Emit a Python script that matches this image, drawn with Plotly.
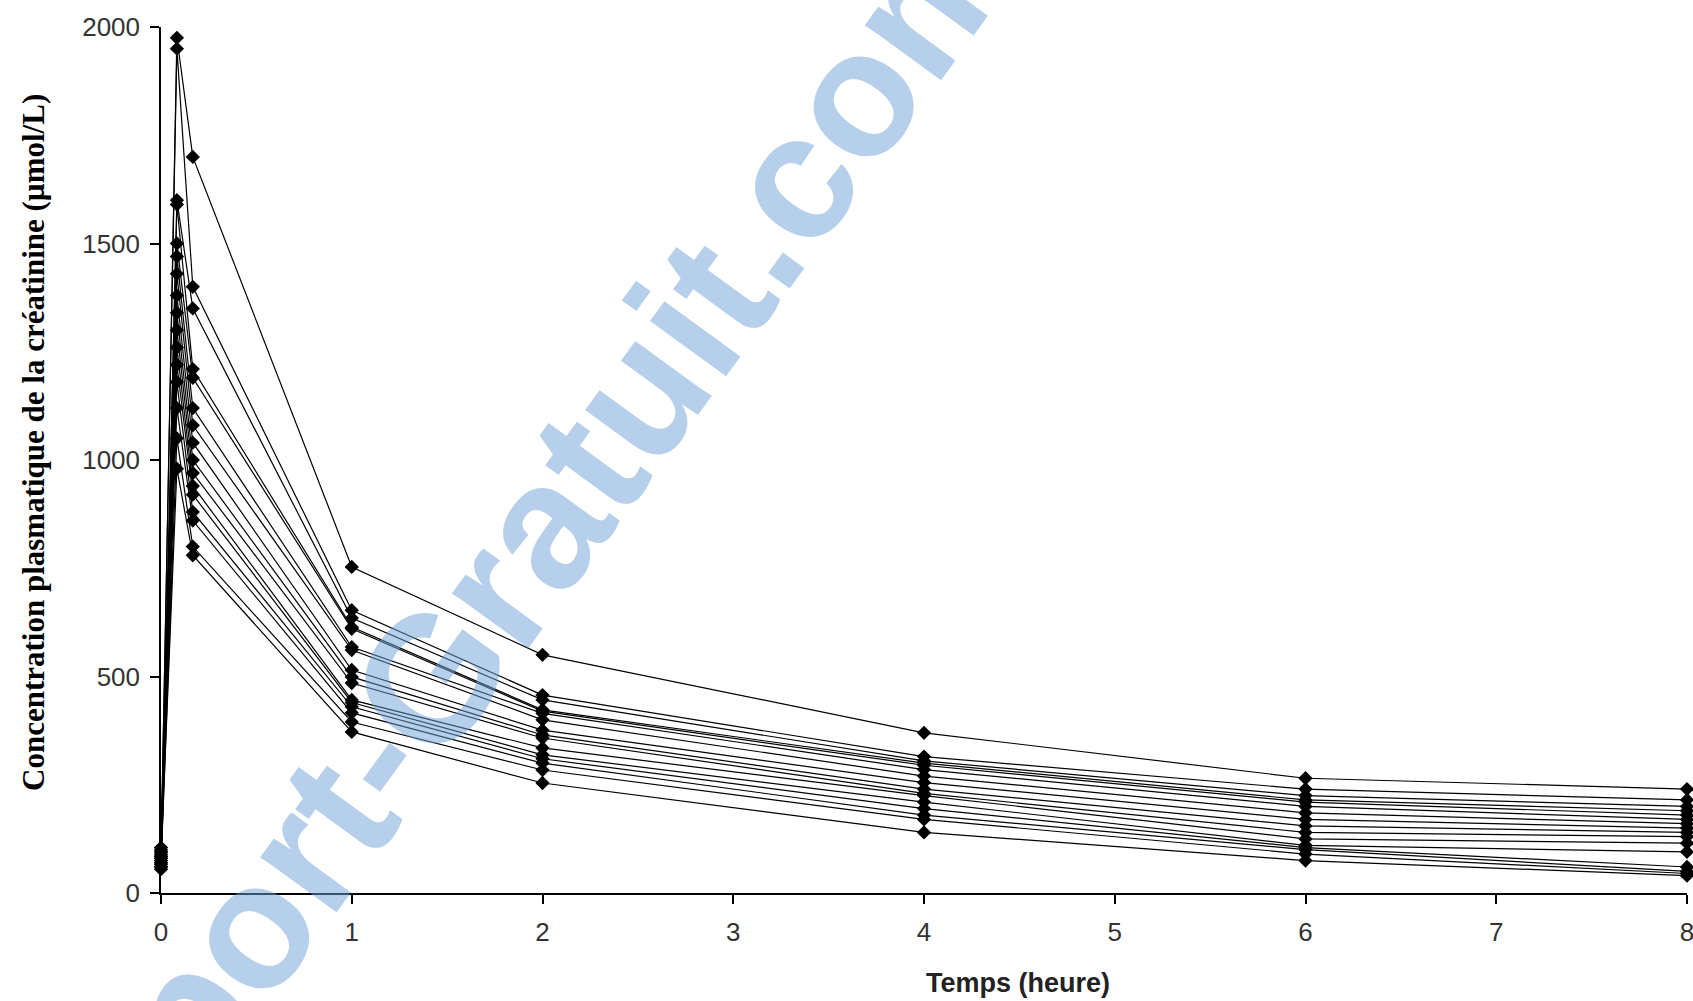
import plotly.graph_objects as go

# Sampling times (hours): 0, 5 min, 10 min, 1 h, 2 h, 4 h, 6 h, 8 h
times = [0, 5 / 60, 10 / 60, 1, 2, 4, 6, 8]

# Plasma creatinine (µmol/L), one list per subject
s01 = [85, 1975, 1700, 753, 550, 370, 265, 240]
s02 = [95, 1950, 1400, 653, 457, 315, 240, 215]
s03 = [70, 1600, 1350, 635, 446, 305, 225, 200]
s04 = [100, 1590, 1210, 614, 423, 300, 215, 190]
s05 = [60, 1500, 1190, 610, 420, 295, 210, 180]
s06 = [80, 1470, 1120, 568, 415, 285, 200, 170]
s07 = [90, 1430, 1080, 561, 400, 270, 185, 160]
s08 = [75, 1380, 1040, 515, 376, 255, 170, 150]
s09 = [65, 1340, 1000, 499, 365, 240, 155, 140]
s10 = [105, 1300, 970, 485, 358, 230, 140, 130]
s11 = [55, 1260, 940, 446, 335, 225, 125, 115]
s12 = [85, 1220, 920, 440, 319, 210, 110, 95]
s13 = [70, 1180, 880, 430, 310, 195, 105, 60]
s14 = [95, 1120, 860, 416, 300, 180, 100, 50]
s15 = [60, 1050, 800, 395, 284, 170, 90, 45]
s16 = [80, 980, 780, 372, 254, 140, 75, 40]

subjects = [s01, s02, s03, s04, s05, s06, s07, s08,
            s09, s10, s11, s12, s13, s14, s15, s16]

x_ticks = [0, 1, 2, 3, 4, 5, 6, 7, 8]
y_ticks = [0, 500, 1000, 1500, 2000]

fig = go.Figure()
for i, s in enumerate(subjects):
    fig.add_trace(go.Scatter(
        x=times, y=s, mode="lines+markers",
        line=dict(color="black", width=1.2),
        marker=dict(symbol="diamond", size=11, color="black"),
        showlegend=False, cliponaxis=False, name=f"S{i+1}"))

W, H = 1693, 1001
L, R, T, B = 161, 6, 27, 108
pw, ph = W - L - R, H - T - B


def px(x):
    return (x - L) / pw


def py(y):
    return (H - B - y) / ph


fig.update_layout(
    width=W, height=H,
    margin=dict(l=L, r=R, t=T, b=B, autoexpand=False),
    paper_bgcolor="white", plot_bgcolor="white",
    font=dict(family="Liberation Sans, Arial", color="#333333", size=26),
    xaxis=dict(range=[0, 8], tickvals=x_ticks, showgrid=False, zeroline=False,
               showline=True, linecolor="black", linewidth=1.5,
               ticks="outside", ticklen=9, tickwidth=1.5, tickcolor="black",
               ticklabelstandoff=6, ticklabeloverflow="allow", automargin=False,
               tickfont=dict(size=26, color="#333333")),
    yaxis=dict(range=[0, 2000], tickvals=y_ticks, showgrid=False, zeroline=False,
               showline=True, linecolor="black", linewidth=1.5,
               ticks="outside", ticklen=9, tickwidth=1.5, tickcolor="black",
               ticklabelstandoff=5, ticklabeloverflow="allow", automargin=False,
               tickfont=dict(size=26, color="#333333")),
    annotations=[
        dict(text="<b>Concentration plasmatique de la créatinine (µmol/L)</b>",
             xref="paper", yref="paper", x=px(33), y=py(443),
             xanchor="center", yanchor="middle", textangle=-90, showarrow=False,
             font=dict(family="Liberation Serif, Times New Roman", size=31, color="black")),
        dict(text="<b>Temps (heure)</b>",
             xref="paper", yref="paper", x=px(1018), y=py(983),
             xanchor="center", yanchor="middle", showarrow=False,
             font=dict(family="Liberation Sans, Arial", size=27, color="#222222")),
        dict(text="<b>Rapport-Gratuit.com</b>",
             xref="paper", yref="paper", x=px(465), y=py(630),
             xanchor="center", yanchor="middle", textangle=-54, showarrow=False,
             font=dict(family="Liberation Sans, Arial", size=178,
                       color="rgba(110,160,215,0.5)")),
    ],
)

fig.write_html("out.html")
